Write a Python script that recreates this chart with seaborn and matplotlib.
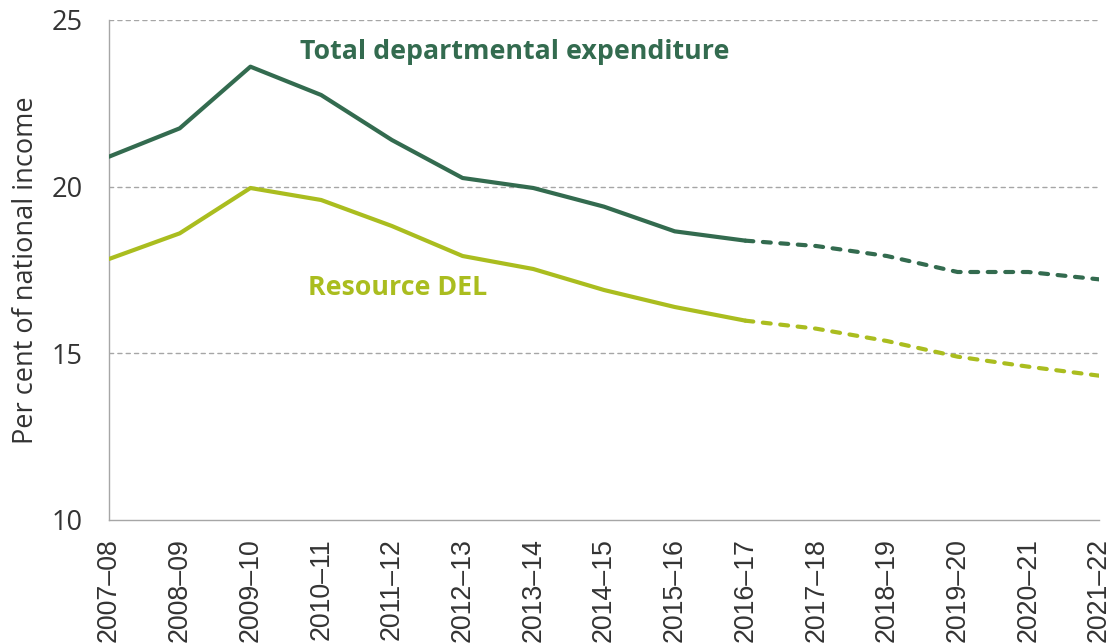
import pandas as pd
import seaborn as sns
import matplotlib.pyplot as plt

years = ["2007–08", "2008–09", "2009–10", "2010–11", "2011–12", "2012–13",
         "2013–14", "2014–15", "2015–16", "2016–17", "2017–18", "2018–19",
         "2019–20", "2020–21", "2021–22"]
total_dept = [20.9, 21.75, 23.6, 22.75, 21.4, 20.26, 19.96, 19.4, 18.66,
              18.38, 18.22, 17.92, 17.44, 17.44, 17.22]
resource_del = [17.83, 18.6, 19.96, 19.6, 18.82, 17.92, 17.53, 16.9, 16.39,
                15.98, 15.74, 15.37, 14.9, 14.6, 14.33]
last_outturn = "2016–17"

DARK_GREEN = "#336B4F"
LIME = "#AABD1F"

sns.set_style("white")
plt.rcParams["font.family"] = ["Open Sans", "DejaVu Sans"]
plt.rcParams["lines.dash_capstyle"] = "round"
plt.rcParams["lines.solid_capstyle"] = "round"

# long-form table: outturn (solid) and forecast (dashed) share the 2016-17 point
split = years.index(last_outturn)
rows = []
for name, vals in [("Total", total_dept), ("Resource DEL", resource_del)]:
    for i, (yr, v) in enumerate(zip(years, vals)):
        if i <= split:
            rows.append({"x": i, "value": v, "series": name, "kind": "outturn"})
        if i >= split:
            rows.append({"x": i, "value": v, "series": name, "kind": "forecast"})
df = pd.DataFrame(rows)

fig = plt.figure(figsize=(11.15, 6.44), dpi=100)
ax = fig.add_axes([109 / 1115, 1 - 520 / 644, (1099 - 109) / 1115, 500 / 644])

sns.lineplot(data=df, x="x", y="value", hue="series", style="kind",
             palette={"Total": DARK_GREEN, "Resource DEL": LIME},
             dashes={"outturn": "", "forecast": (1.9, 2.3)},
             estimator=None, linewidth=3.0, legend=False, ax=ax, zorder=3)

ax.set_xlim(0, len(years) - 1)
ax.set_ylim(10, 25)
ax.set_yticks([10, 15, 20, 25])
ax.set_xticks(range(len(years)))
ax.set_xticklabels(years, rotation=90, family=["Liberation Sans", "DejaVu Sans"],
                   fontsize=19.3)
ax.set_xlabel("")
ax.set_ylabel("Per cent of national income", fontsize=19.5, color="#333333", labelpad=8)

for y in [15, 20, 25]:
    ax.axhline(y, color="#A6A6A6", linestyle=(0, (3, 3)), linewidth=1.0, zorder=1)

for side in ["top", "right"]:
    ax.spines[side].set_visible(False)
for side in ["left", "bottom"]:
    ax.spines[side].set_color("#A6A6A6")
    ax.spines[side].set_linewidth(1.0)
ax.tick_params(axis="both", direction="out", length=7.2, width=1.0, color="#A6A6A6",
               labelcolor="#333333")
ax.tick_params(axis="y", pad=12, labelsize=19.5)
ax.tick_params(axis="x", pad=6)

ax.text(5.73, 24.04, "Total departmental expenditure", color=DARK_GREEN,
        fontsize=19.3, fontweight="bold", ha="center", va="center")
ax.text(4.08, 16.96, "Resource DEL", color=LIME, fontsize=19.3,
        fontweight="bold", ha="center", va="center")

fig.savefig("out.png", dpi=100)
